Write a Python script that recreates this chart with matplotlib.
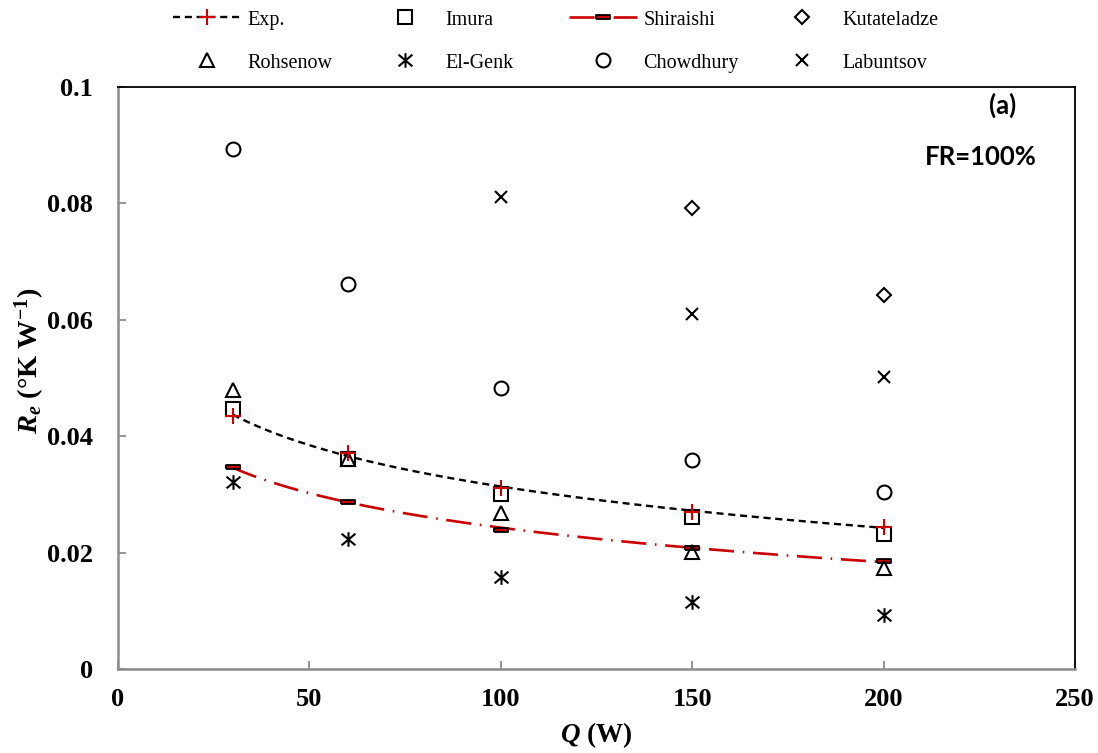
import numpy as np
import matplotlib as mpl

mpl.use("Agg")
import matplotlib.pyplot as plt
from matplotlib.lines import Line2D
from matplotlib.path import Path

# Heat input (W) and evaporator thermal resistance for each correlation
Q = [30, 60, 100, 150, 200]
EXP = [0.0435, 0.0371, 0.0311, 0.0270, 0.0244]
IMURA = [0.0447, 0.0361, 0.0301, 0.0261, 0.0232]
SHIRAISHI = [0.0347, 0.0287, 0.0239, 0.0208, 0.0186]
ROHSENOW = [0.0479, 0.0360, 0.0268, 0.0201, 0.0174]
EL_GENK = [0.0321, 0.0223, 0.0158, 0.0115, 0.0093]
CHOWDHURY = [0.0893, 0.0662, 0.0483, 0.0359, 0.0304]
Q_KUTATELADZE = [150, 200]
KUTATELADZE = [0.0792, 0.0643]
Q_LABUNTSOV = [100, 150, 200]
LABUNTSOV = [0.0811, 0.0610, 0.0502]

X_TICKS = [0, 50, 100, 150, 200, 250]
Y_TICKS = [0, 0.02, 0.04, 0.06, 0.08, 0.1]
Y_TICK_LABELS = ["0", "0.02", "0.04", "0.06", "0.08", "0.1"]

RED = "#cc0000"
AXIS_GRAY = "#8c8c8c"
W, H = 1098, 753

mpl.rcParams.update(
    {
        "font.family": "Liberation Serif",
        "mathtext.fontset": "custom",
        "mathtext.rm": "Liberation Serif:bold",
        "mathtext.it": "Liberation Serif:italic:bold",
        "mathtext.bf": "Liberation Serif:bold",
    }
)

fig = plt.figure(figsize=(W / 100, H / 100), dpi=100)
ax = fig.add_axes([118 / W, 1 - 669 / H, (1075 - 118) / W, (669 - 87) / H])

# logarithmic trend lines (Excel-style)
qq = np.linspace(min(Q), max(Q), 200)
b_exp, a_exp = np.polyfit(np.log(Q), EXP, 1)
b_shi, a_shi = np.polyfit(np.log(Q), SHIRAISHI, 1)
exp_dash = dict(color="black", lw=1.7, dashes=(3.0, 2.0))
shi_dash = dict(color=RED, lw=1.9, dashes=(9.5, 3.3, 0.6, 3.3))
ax.plot(qq, a_exp + b_exp * np.log(qq), zorder=2, **exp_dash)
ax.plot(qq, a_shi + b_shi * np.log(qq), zorder=2, **shi_dash)

# Excel-like marker shapes
bar_marker = [(-1, -0.27), (1, -0.27), (1, 0.27), (-1, 0.27), (-1, -0.27)]
M, L = Path.MOVETO, Path.LINETO
star_marker = Path(
    [(0, -1), (0, 1), (-0.95, -0.8), (0.95, 0.8), (-0.95, 0.8), (0.95, -0.8)],
    [M, L, M, L, M, L],
)
hollow = dict(ls="none", mfc="none", mec="black", mew=1.5)

styles = {
    "Imura": dict(marker="s", ms=10, **hollow),
    "Shiraishi": dict(marker=bar_marker, ms=10.5, ls="none", mfc=RED, mec="black", mew=1.3),
    "Kutateladze": dict(marker="D", ms=7.5, **hollow),
    "Rohsenow": dict(marker="^", ms=10, **hollow),
    "El-Genk": dict(marker=star_marker, ms=10.5, **hollow),
    "Chowdhury": dict(marker="o", ms=10, **hollow),
    "Labuntsov": dict(marker="x", ms=9, **hollow),
    "Exp.": dict(marker="+", ms=11, ls="none", color=RED, mew=1.5),
}

ax.plot(Q, SHIRAISHI, zorder=3, **styles["Shiraishi"])
ax.plot(Q, ROHSENOW, zorder=4, **styles["Rohsenow"])
ax.plot(Q, IMURA, zorder=4, **styles["Imura"])
ax.plot(Q_KUTATELADZE, KUTATELADZE, zorder=4, **styles["Kutateladze"])
ax.plot(Q, EL_GENK, zorder=4, **styles["El-Genk"])
ax.plot(Q, CHOWDHURY, zorder=4, **styles["Chowdhury"])
ax.plot(Q_LABUNTSOV, LABUNTSOV, zorder=4, **styles["Labuntsov"])
ax.plot(Q, EXP, zorder=5, **styles["Exp."])

ax.set_xlim(0, 250)
ax.set_ylim(0, 0.1)
ax.set_xticks(X_TICKS)
ax.set_yticks(Y_TICKS, Y_TICK_LABELS)
for lab in ax.get_xticklabels() + ax.get_yticklabels():
    lab.set_fontsize(19)
    lab.set_fontweight("bold")
ax.tick_params(axis="x", direction="in", length=6, width=1.3, color=AXIS_GRAY, pad=14)
ax.tick_params(axis="y", direction="in", length=6, width=1.3, color=AXIS_GRAY, pad=18)

for name in ("left", "bottom"):
    ax.spines[name].set_color(AXIS_GRAY)
    ax.spines[name].set_linewidth(1.8)
for name in ("top", "right"):
    ax.spines[name].set_color("black")
    ax.spines[name].set_linewidth(1.3)

ax.set_xlabel(r"$Q$ (W)", fontsize=19.5, fontweight="bold", va="center")
ax.xaxis.set_label_coords(0.5, (669 - 735) / 582)
ax.set_ylabel(r"$R_e$ (°K W$^{-1}$)", fontsize=20.5, fontweight="bold", va="center")
ax.yaxis.set_label_coords((30 - 118) / 957, (669 - 361) / 582)

ax.text(0.924, 0.969, "(a)", transform=ax.transAxes, ha="center", va="center",
        fontsize=18.5, fontweight="bold", family="Lato")
ax.text(0.902, 0.880, "FR=100%", transform=ax.transAxes, ha="center", va="center",
        fontsize=18.5, fontweight="bold", family="Lato")

# legend: one key per entry, laid out on a 4x2 grid above the plot
handles = {name: Line2D([], [], **st) for name, st in styles.items()}
handles["Exp."] = Line2D([], [], marker="+", ms=11, mec=RED, mew=1.5, **exp_dash)
handles["Shiraishi"] = Line2D([], [], marker=bar_marker, ms=10.5, mfc=RED, mec="black",
                              mew=1.3, **shi_dash)
layout = [
    ("Exp.", 207, 20), ("Imura", 405, 20), ("Shiraishi", 603, 20), ("Kutateladze", 802, 20),
    ("Rohsenow", 207, 63), ("El-Genk", 405, 63), ("Chowdhury", 603, 63), ("Labuntsov", 802, 63),
]
for name, cx, cy in layout:
    fig.legend([handles[name]], [name], loc="center left",
               bbox_to_anchor=((cx - 34) / W, 1 - cy / H), frameon=False,
               fontsize=14.5, handlelength=3.4, handletextpad=0.3,
               borderpad=0, borderaxespad=0, numpoints=1)

fig.savefig("out.png", dpi=100)
